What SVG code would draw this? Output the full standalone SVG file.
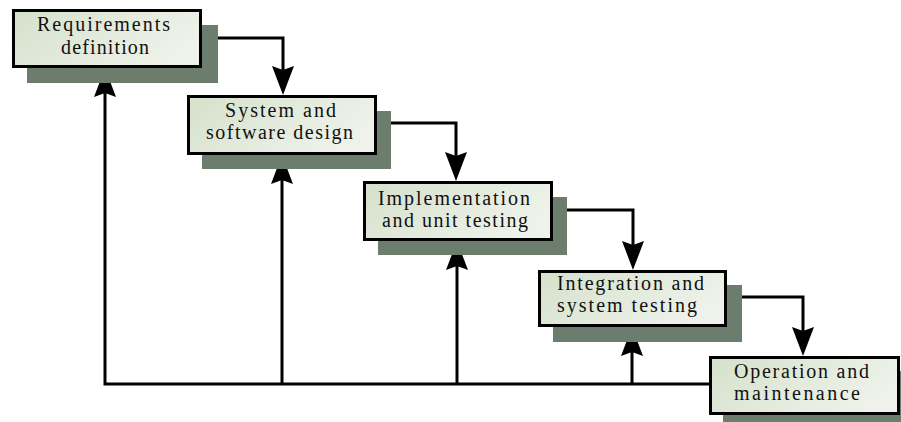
<svg xmlns="http://www.w3.org/2000/svg" width="901" height="422" viewBox="0 0 901 422">
<style>
.shadow{fill:#6d7d6d}
.box{fill:url(#g);stroke:#000;stroke-width:3}
.t{font-family:"Liberation Serif","Times New Roman",serif;font-size:20px;fill:#111}
.c{fill:none;stroke:#000;stroke-width:3}
.ah{fill:#000}
</style>
<defs>
<linearGradient id="g" x1="0" y1="0" x2="1" y2="0.4">
<stop offset="0" stop-color="#d5e1cb"/>
<stop offset="1" stop-color="#eef2ea"/>
</linearGradient>
<path id="ah" d="M0,0 L-11,-29 L0,-25 L11,-29 Z"/>
</defs>
<g id="connectors">
<path class="c" d="M202,38 H283 V75"/>
<path class="c" d="M377,123 H456 V161"/>
<path class="c" d="M553,210 H633 V250"/>
<path class="c" d="M727,297 H803 V336"/>
<path class="c" d="M709,384 H105 V88"/>
<path class="c" d="M282,384 V175"/>
<path class="c" d="M457,384 V261"/>
<path class="c" d="M632,384 V347"/>
<use href="#ah" class="ah" transform="translate(283,95)"/>
<use href="#ah" class="ah" transform="translate(456,181)"/>
<use href="#ah" class="ah" transform="translate(633,270)"/>
<use href="#ah" class="ah" transform="translate(803,356)"/>
<use href="#ah" class="ah" transform="translate(105,68) rotate(180)"/>
<use href="#ah" class="ah" transform="translate(282,155) rotate(180)"/>
<use href="#ah" class="ah" transform="translate(457,241) rotate(180)"/>
<use href="#ah" class="ah" transform="translate(632,327) rotate(180)"/>
</g>
<g id="n1">
<rect class="shadow" x="27" y="25" width="191" height="58"/>
<rect class="box" x="13.5" y="10.5" width="187" height="56"/>
<text class="t" x="37" y="31" textLength="133" lengthAdjust="spacing">Requirements</text>
<text class="t" x="61" y="54" textLength="88" lengthAdjust="spacing">definition</text>
</g>
<g id="n2">
<rect class="shadow" x="202" y="111" width="189" height="58"/>
<rect class="box" x="188.5" y="96.5" width="187" height="57"/>
<text class="t" x="225" y="117" textLength="111" lengthAdjust="spacing">System and</text>
<text class="t" x="206" y="139" textLength="147" lengthAdjust="spacing">software design</text>
</g>
<g id="n3">
<rect class="shadow" x="378" y="197" width="189" height="58"/>
<rect class="box" x="364.5" y="182.5" width="187" height="57"/>
<text class="t" x="378" y="205" textLength="152" lengthAdjust="spacing">Implementation</text>
<text class="t" x="382" y="227" textLength="146" lengthAdjust="spacing">and unit testing</text>
</g>
<g id="n4">
<rect class="shadow" x="553" y="285" width="189" height="57"/>
<rect class="box" x="539.5" y="271.5" width="186" height="54"/>
<text class="t" x="557" y="290" textLength="147" lengthAdjust="spacing">Integration and</text>
<text class="t" x="557" y="312" textLength="140" lengthAdjust="spacing">system testing</text>
</g>
<g id="n5">
<rect class="shadow" x="723" y="371" width="190" height="51"/>
<rect class="box" x="710.5" y="357.5" width="188" height="56"/>
<text class="t" x="734" y="378" textLength="135" lengthAdjust="spacing">Operation and</text>
<text class="t" x="734" y="400" textLength="126" lengthAdjust="spacing">maintenance</text>
</g>
</svg>
